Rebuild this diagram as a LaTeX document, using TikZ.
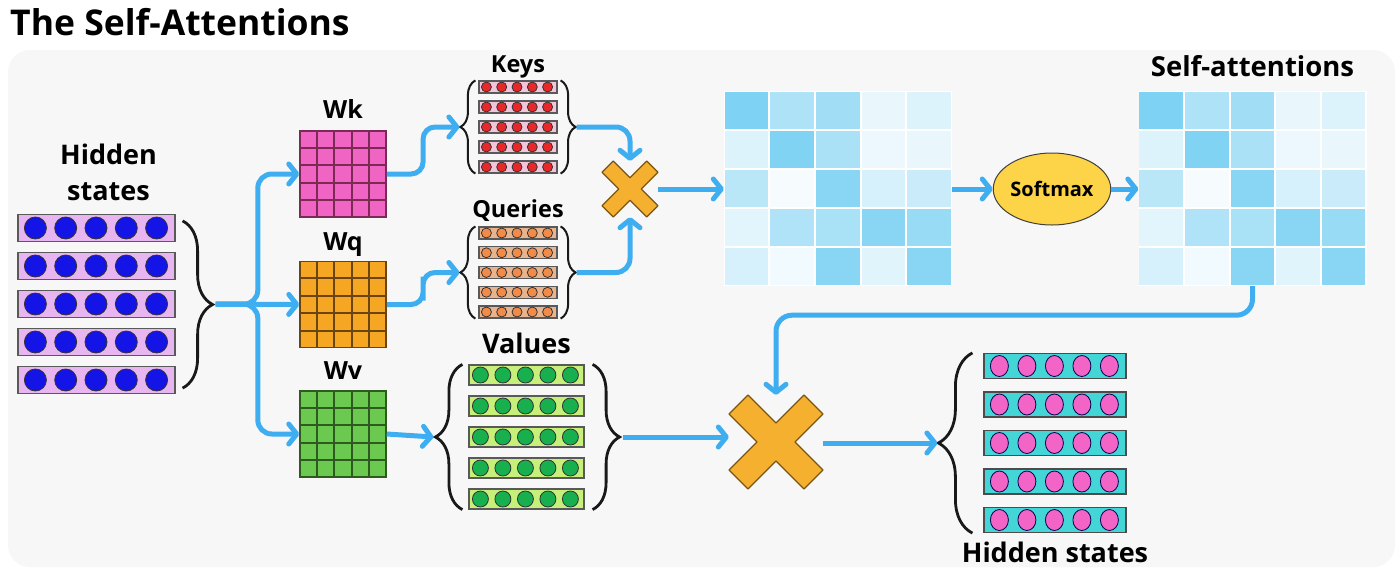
\documentclass[tikz,border=0pt]{standalone}
\usepackage{fontspec}
\setmainfont{Open Sans}
\usetikzlibrary{positioning,calc,arrows.meta,shapes.geometric,decorations.pathreplacing}

\definecolor{panelgray}{HTML}{F7F7F7}
\definecolor{flowblue}{HTML}{3FAEF0}
\definecolor{heatblue}{HTML}{62C8F0}
\definecolor{wkpink}{HTML}{F064C4}
\definecolor{wkline}{HTML}{7A2A55}
\definecolor{wqorange}{HTML}{F5A623}
\definecolor{wqline}{HTML}{6A4510}
\definecolor{wvgreen}{HTML}{6CC94F}
\definecolor{wvline}{HTML}{2E5A20}
\definecolor{hidlilac}{HTML}{E7B6F0}
\definecolor{hiddot}{HTML}{1414E6}
\definecolor{keypink}{HTML}{F2C6DA}
\definecolor{keydot}{HTML}{E82828}
\definecolor{qtan}{HTML}{E8B48E}
\definecolor{qdot}{HTML}{F28A48}
\definecolor{vlime}{HTML}{C6F07A}
\definecolor{vdotgreen}{HTML}{18B04E}
\definecolor{outcyan}{HTML}{44D6D6}
\definecolor{outdot}{HTML}{F264C6}
\definecolor{crossorange}{HTML}{F5B02F}
\definecolor{crossline}{HTML}{7A5512}
\definecolor{softyellow}{HTML}{FDD447}

\tikzset{
  title/.style={font=\bfseries\fontsize{35.5}{38}\selectfont, inner sep=0pt},
  lbl/.style={font=\bfseries\fontsize{25}{30}\selectfont, inner sep=0pt},
  biglbl/.style={font=\bfseries\fontsize{27}{36}\selectfont, inner sep=0pt},
  smalllbl/.style={font=\bfseries\fontsize{23.5}{26}\selectfont, inner sep=0pt},
  flow/.style={draw=flowblue, line width=5pt, rounded corners=14pt,
    -{Straight Barb[round,length=8pt,width=20pt]}},
  wmat/.style={minimum size=86pt, inner sep=0pt, line width=1.5pt},
  vrow/.style={draw=black!65, line width=1.2pt, inner sep=0pt},
  vdot/.style={circle, draw=black!80, line width=0.8pt, inner sep=0pt},
  curly/.style={decorate, decoration={brace, amplitude=#1}, line width=2.8pt, black!90},
  heat/.style={fill=white, minimum width=228pt, minimum height=195pt, inner sep=0pt},
  mulbox/.style={inner sep=0pt},
  softbox/.style={ellipse, fill=softyellow, draw=black!75, line width=1pt,
    minimum width=109pt, minimum height=72pt, inner sep=0pt,
    font=\bfseries\fontsize{20}{24}\selectfont},
  crossmark/.pic={
    \draw[fill=crossorange, draw=crossline, line width=1.2pt, line join=round, rotate=45]
      (8,31.6) -- (8,8) -- (31.6,8) -- (31.6,-8) -- (8,-8) -- (8,-31.6) -- (-8,-31.6)
      -- (-8,-8) -- (-31.6,-8) -- (-31.6,8) -- (-8,8) -- (-8,31.6) -- cycle;
  }
}

\begin{document}
\begin{tikzpicture}[x=1pt, y=-1pt]
  % canvas and panel
  \fill[white] (0,0) rectangle (1400,571);
  \useasboundingbox (0,0) rectangle (1400,571);
  \fill[panelgray, rounded corners=22pt] (8,50) rectangle (1395,567);

  \node[title, anchor=base west] (title) at (10,35) {The Self-Attentions};

  % Hidden states (input)
  \foreach \r in {1,...,5} {
    \node[vrow, fill=hidlilac, minimum width=157pt, minimum height=27pt] (hin\r) at (96.5,{228+38*(\r-1)}) {};
    \foreach \c in {1,...,5}
      \node[vdot, fill=hiddot, minimum size=22pt] (hin\r-\c) at ($(hin\r.west)+({18+30.3*(\c-1)},0)$) {};
  }
  \node[biglbl, align=center, above=13pt of hin1, xshift=12pt] (hinlbl) {Hidden\\states};
  \draw[curly=30pt] ($(hin1.north east)+(7,7)$) -- ($(hin5.south east)+(7,-6)$);
  \coordinate (hb) at ($(hin3.east)+(40,0)$);
  \coordinate (split) at ($(hb)!0.5!(300,304.5)$);

  % Weight matrices
  \node[wmat, fill=wkpink, draw=wkline] (Wk) at (343,174) {};
  \node[wmat, fill=wqorange, draw=wqline] (Wq) at (343,304.5) {};
  \node[wmat, fill=wvgreen, draw=wvline] (Wv) at (343,434) {};
  \foreach \m/\l in {Wk/wkline, Wq/wqline, Wv/wvline}
    \foreach \k in {1,...,4} {
      \draw[\l, line width=2pt] ($(\m.north west)!\k/5!(\m.north east)$) -- ($(\m.south west)!\k/5!(\m.south east)$);
      \draw[\l, line width=2pt] ($(\m.north west)!\k/5!(\m.south west)$) -- ($(\m.north east)!\k/5!(\m.south east)$);
    }
  \node[lbl, above=12pt of Wk, anchor=base] (wklbl) {Wk};
  \node[lbl, above=10pt of Wq, anchor=base] (wqlbl) {Wq};
  \node[lbl, above=11pt of Wv, anchor=base] (wvlbl) {Wv};

  % Keys
  \foreach \r in {1,...,5} {
    \node[vrow, fill=keypink, minimum width=78pt, minimum height=12pt] (key\r) at (518,{87+20*(\r-1)}) {};
    \foreach \c in {1,...,5}
      \node[vdot, fill=keydot, minimum size=10pt] (key\r-\c) at ($(key\r.west)+({8+15.3*(\c-1)},0)$) {};
  }
  \node[smalllbl, above=8pt of key1, anchor=base] (keylbl) {Keys};
  \draw[curly=15pt, line width=2pt] ($(key5.south west)+(-3,0)$) -- ($(key1.north west)+(-3,0)$);
  \draw[curly=15pt, line width=2pt] ($(key1.north east)+(3,0)$) -- ($(key5.south east)+(3,0)$);
  \coordinate (kl) at ($(key3.west)+(-19,0)$);
  \coordinate (kr) at ($(key3.east)+(19,0)$);

  % Queries
  \foreach \r in {1,...,5} {
    \node[vrow, fill=qtan, minimum width=78pt, minimum height=12pt] (qry\r) at (518,{233+19.75*(\r-1)}) {};
    \foreach \c in {1,...,5}
      \node[vdot, fill=qdot, minimum size=10pt] (qry\r-\c) at ($(qry\r.west)+({8+15.3*(\c-1)},0)$) {};
  }
  \node[smalllbl, above=9pt of qry1, anchor=base] (qrylbl) {Queries};
  \draw[curly=15pt, line width=2pt] ($(qry5.south west)+(-3,0)$) -- ($(qry1.north west)+(-3,0)$);
  \draw[curly=15pt, line width=2pt] ($(qry1.north east)+(3,0)$) -- ($(qry5.south east)+(3,0)$);
  \coordinate (ql) at ($(qry3.west)+(-19,0)$);
  \coordinate (qr) at ($(qry3.east)+(19,0)$);

  % Values
  \foreach \r in {1,...,5} {
    \node[vrow, fill=vlime, minimum width=115pt, minimum height=20pt] (val\r) at (526.5,{375+31*(\r-1)}) {};
    \foreach \c in {1,...,5}
      \node[vdot, fill=vdotgreen, minimum size=16pt] (val\r-\c) at ($(val\r.west)+({12+22.5*(\c-1)},0)$) {};
  }
  \node[biglbl, above=10pt of val1] (vallbl) {Values};
  \draw[curly=27pt] ($(val5.south west)+(-6,0)$) -- ($(val1.north west)+(-6,0)$);
  \draw[curly=27pt] ($(val1.north east)+(8,0)$) -- ($(val5.south east)+(8,0)$);
  \coordinate (vl) at ($(val3.west)+(-35,0)$);
  \coordinate (vr) at ($(val3.east)+(38,0)$);

  % Attention maps
  \node[heat] (att1) at (838,188.5) {};
  \node[heat] (att2) at (1252.5,188.5) {};
  \foreach \m in {att1, att2}
    \foreach \row [count=\r] in {{82,52,60,14,22},{22,80,54,12,14},{44,6,76,26,34},{18,50,55,76,66},{26,9,76,20,76}}
      \foreach \v [count=\c] in \row
        \fill[heatblue!\v!white] ($(\m.north west)+({45.6*(\c-1)+1},{39*(\r-1)+1})$) rectangle ++(43.6,37);
  \node[biglbl, font=\bfseries\fontsize{27.5}{30}\selectfont, above=14pt of att2] (attlbl) {Self-attentions};
  \node[softbox] (soft) at (1052,189) {Softmax};

  % Products
  \node[mulbox, minimum size=56pt] (mul1) at (630,189) {};
  \pic at (mul1) {crossmark};
  \node[mulbox, minimum size=94pt] (mul2) at (776,442) {};
  \pic[scale=1.68] at (mul2) {crossmark};

  % Hidden states (output)
  \foreach \r in {1,...,5} {
    \node[vrow, fill=outcyan, draw=black!70, minimum width=142pt, minimum height=25pt] (out\r) at (1055,{366+38.5*(\r-1)}) {};
    \foreach \c in {1,...,5}
      \node[vdot, ellipse, fill=outdot, draw=black!70!blue, minimum width=18pt, minimum height=21pt] (out\r-\c) at ($(out\r.west)+({16+27.5*(\c-1)},0)$) {};
  }
  \node[biglbl, below=9pt of out5] (outlbl) {Hidden states};
  \draw[curly=34pt] ($(out5.south west)+(-11,0)$) -- ($(out1.north west)+(-11,0)$);
  \coordinate (ob) at ($(out3.west)+(-46,0)$);

  % Connections
  \draw[flow] (hb) -- (Wq.west);
  \draw[flow] (hb) -- (split) |- (Wk.west);
  \draw[flow] (hb) -- (split) |- (Wv.west);
  \draw[flow, rounded corners=12pt] (Wk.east) -| ($(Wk.east)!0.5!(kl)$) |- (kl);
  \draw[flow, rounded corners=12pt] (Wq.east) -| ($(Wq.east)!0.5!(ql)$) |- (ql);
  \draw[flow] (Wv.east) -- (vl);
  \draw[flow] (kr) -| (mul1.north);
  \draw[flow] (qr) -| (mul1.south);
  \draw[flow] (mul1.east) -- (mul1.east -| att1.west);
  \draw[flow] (att1.east |- soft.west) -- (soft.west);
  \draw[flow] (soft.east) -- (soft.east -| att2.west);
  \draw[flow, rounded corners=16pt] (att2.south) -- ++(0,29) -| (mul2.north);
  \draw[flow] (vr) -- (vr -| mul2.west);
  \draw[flow] (mul2.east |- ob) -- (ob);
\end{tikzpicture}
\end{document}
